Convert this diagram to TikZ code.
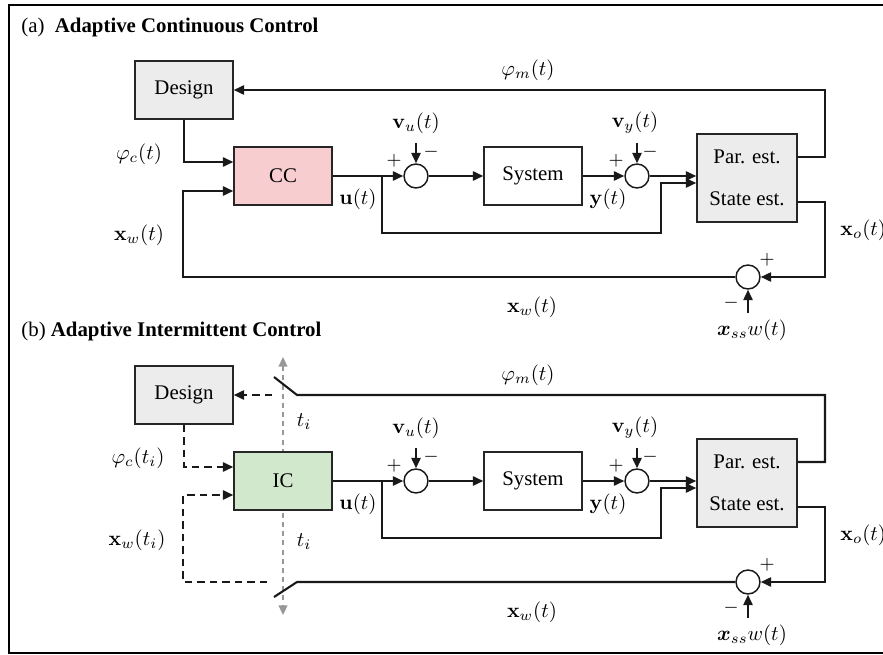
\documentclass[tikz,border=0pt]{standalone}
\usepackage[no-math]{fontspec}
\setmainfont{Liberation Serif}
\usepackage{amsmath,bm}
\usetikzlibrary{arrows.meta,calc}

\definecolor{ccfill}{RGB}{248,205,208}
\definecolor{icfill}{RGB}{209,232,204}
\definecolor{blockgray}{RGB}{236,236,236}
\definecolor{clockgray}{RGB}{152,152,152}

\tikzset{
  block/.style={draw=black!85, line width=0.7pt, minimum width=47pt,
    minimum height=27.8pt, inner sep=0pt},
  estblock/.style={block, fill=blockgray, minimum width=48pt, minimum height=42.2pt},
  sumnode/.style={circle, draw=black!90, line width=0.7pt, minimum size=11.5pt,
    inner sep=0pt, fill=white},
  sig/.style={line width=1pt, draw=black!90},
  arr/.style={sig, -{Triangle[length=5pt,width=4.4pt]}},
  dsig/.style={sig, dash pattern=on 3.6pt off 2.4pt},
  darr/.style={dsig, -{Triangle[length=5pt,width=4.4pt]}},
  clockline/.style={draw=clockgray, line width=0.75pt, dash pattern=on 2.4pt off 2pt,
    {Triangle[length=4.6pt,width=4.2pt]}-{Triangle[length=4.6pt,width=4.2pt]}},
  lbl/.style={inner sep=0pt},
  sgn/.style={inner sep=0pt, font=\small},
  title/.style={inner sep=0pt, anchor=base west},
}

\begin{document}
\begin{tikzpicture}[x=0.48pt, y=-0.48pt]
  \useasboundingbox (0,0) rectangle (883,655);
  % outer frame (its right side lies past the page edge)
  \draw[line width=1pt] (9,5) rectangle (910,653);

  % ---------------- (a) continuous loop ----------------
  \node[title] (titleA) at (21,33) {(a)~~\textbf{Adaptive Continuous Control}};

  \node[block, fill=blockgray] (designA) at (184,90) {Design};
  \node[block, fill=ccfill] (cc) at (283,176) {CC};
  \node[block, fill=white] (sysA) at (533,176) {System};
  \node[estblock] (estA) at (747,178) {};
  \node[lbl] (parA) at (747,157) {Par. est.};
  \node[lbl] (stateA) at (747,199) {State est.};
  \node[sumnode] (suA) at (416,176) {};
  \node[sumnode] (syA) at (637,176) {};
  \node[sumnode] (sxA) at (748,277) {};

  \coordinate (brA) at (382,176);
  \coordinate (vuA) at (416,143);
  \coordinate (vyA) at (637,143);
  \coordinate (ssA) at (748,313);

  \draw[arr] (cc.east) -- (suA.west);
  \draw[arr] (suA.east) -- (sysA.west);
  \draw[arr] (sysA.east) -- (syA.west);
  \draw[arr] (syA.east) -- (estA.west |- syA);
  \draw[arr] (brA) |- (661,233) |- ($(estA.west)+(0,5)$);
  \draw[arr] (vuA) -- (suA.north);
  \draw[arr] (vyA) -- (syA.north);
  \draw[arr] ($(estA.east)+(0,-21)$) -| (825,90) -- (designA.east);
  \draw[arr] ($(estA.east)+(0,24)$) -- (825,202) |- (sxA.east);
  \draw[arr] (ssA) -- (sxA.south);
  \draw[arr] (sxA.west) -- (183,277) |- ($(cc.west)+(0,15)$);
  \draw[arr] (designA.south) |- ($(cc.west)+(0,-14)$);

  \node[lbl] (phicA) at (139,154) {$\varphi_c(t)$};
  \node[lbl] (xwinA) at (139,235) {$\mathbf{x}_w(t)$};
  \node[lbl] (uA) at (358,199) {$\mathbf{u}(t)$};
  \node[lbl] (vulA) at (416,123) {$\mathbf{v}_u(t)$};
  \node[lbl] (yA) at (608,199) {$\mathbf{y}(t)$};
  \node[lbl] (vylA) at (635,123) {$\mathbf{v}_y(t)$};
  \node[lbl] (phimA) at (528,70) {$\varphi_m(t)$};
  \node[lbl, anchor=west] (xoA) at (840,230) {$\mathbf{x}_o(t)$};
  \node[lbl] (xwA) at (532,307) {$\mathbf{x}_w(t)$};
  \node[lbl] (xssA) at (752,330) {$\bm{x}_{ss}w(t)$};
  \node[sgn] (pA1) at (394,161) {$+$};
  \node[sgn] (mA1) at (431,152) {$-$};
  \node[sgn] (pA2) at (616,161) {$+$};
  \node[sgn] (mA2) at (650,152) {$-$};
  \node[sgn] (pA3) at (767,260) {$+$};
  \node[sgn] (mA3) at (731,303) {$-$};

  % ---------------- (b) intermittent loop ----------------
  \node[title] (titleB) at (21,337) {(b)~\textbf{Adaptive Intermittent Control}};

  % intermittent sampling instants t_i
  \coordinate (clkTop) at (283,357);
  \coordinate (clkBot) at (283,615);
  \draw[clockline] (clkTop) -- (clkBot);

  \node[block, fill=blockgray] (designB) at (184,395) {Design};
  \node[block, fill=icfill] (ic) at (283,481) {IC};
  \node[block, fill=white] (sysB) at (533,481) {System};
  \node[estblock] (estB) at (747,483) {};
  \node[lbl] (parB) at (747,462) {Par. est.};
  \node[lbl] (stateB) at (747,504) {State est.};
  \node[sumnode] (suB) at (416,481) {};
  \node[sumnode] (syB) at (637,481) {};
  \node[sumnode] (sxB) at (748,582) {};

  \coordinate (brB) at (382,481);
  \coordinate (vuB) at (416,448);
  \coordinate (vyB) at (637,448);
  \coordinate (ssB) at (748,618);
  % sampling switches
  \coordinate (swTopA) at (297,395);
  \coordinate (swTopB) at (274,377);
  \coordinate (swTopL) at (272,395);
  \coordinate (swBotA) at (297,582);
  \coordinate (swBotB) at (274,597);
  \coordinate (swBotL) at (267,582);

  \draw[arr] (ic.east) -- (suB.west);
  \draw[arr] (suB.east) -- (sysB.west);
  \draw[arr] (sysB.east) -- (syB.west);
  \draw[arr] (syB.east) -- (estB.west |- syB);
  \draw[arr] (brB) |- (661,538) |- ($(estB.west)+(0,5)$);
  \draw[arr] (vuB) -- (suB.north);
  \draw[arr] (vyB) -- (syB.north);
  \draw[sig] ($(estB.east)+(0,-21)$) -| (825,395) -- (swTopA) -- (swTopB);
  \draw[darr] (swTopL) -- (designB.east);
  \draw[arr] ($(estB.east)+(0,24)$) -- (825,507) |- (sxB.east);
  \draw[arr] (ssB) -- (sxB.south);
  \draw[sig] (sxB.west) -- (swBotA) -- (swBotB);
  \draw[darr] (swBotL) -- (183,582) |- ($(ic.west)+(0,14)$);
  \draw[darr] (designB.south) |- ($(ic.west)+(0,-14)$);

  \node[lbl] (tiTop) at (304,422) {$t_i$};
  \node[lbl] (tiBot) at (304,542) {$t_i$};
  \node[lbl] (phicB) at (138,458) {$\varphi_c(t_i)$};
  \node[lbl] (xwinB) at (137,540) {$\mathbf{x}_w(t_i)$};
  \node[lbl] (uB) at (358,504) {$\mathbf{u}(t)$};
  \node[lbl] (vulB) at (416,428) {$\mathbf{v}_u(t)$};
  \node[lbl] (yB) at (608,504) {$\mathbf{y}(t)$};
  \node[lbl] (vylB) at (635,428) {$\mathbf{v}_y(t)$};
  \node[lbl] (phimB) at (528,375) {$\varphi_m(t)$};
  \node[lbl, anchor=west] (xoB) at (840,535) {$\mathbf{x}_o(t)$};
  \node[lbl] (xwB) at (532,612) {$\mathbf{x}_w(t)$};
  \node[lbl] (xssB) at (752,635) {$\bm{x}_{ss}w(t)$};
  \node[sgn] (pB1) at (394,466) {$+$};
  \node[sgn] (mB1) at (431,457) {$-$};
  \node[sgn] (pB2) at (616,466) {$+$};
  \node[sgn] (mB2) at (650,457) {$-$};
  \node[sgn] (pB3) at (767,565) {$+$};
  \node[sgn] (mB3) at (731,608) {$-$};
\end{tikzpicture}
\end{document}
